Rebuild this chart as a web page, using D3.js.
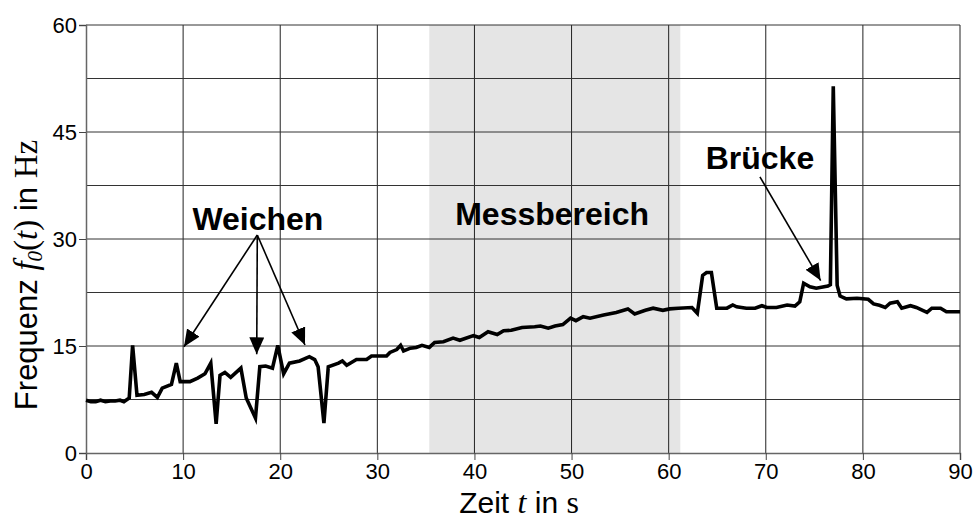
<!DOCTYPE html>
<html>
<head>
<meta charset="utf-8">
<script src="https://cdn.jsdelivr.net/npm/d3@7"></script>
<style>
  body { margin: 0; background: #fff; }
  svg text { font-family: "Liberation Sans", Arial, sans-serif; }
  .serif { font-family: "Liberation Serif", "Times New Roman", serif; }
</style>
</head>
<body>
<svg id="chart" width="973" height="520"></svg>
<script>
// time in s
var zeit = [0, 0.5, 1, 1.5, 2, 2.5, 3, 3.5, 3.9, 4.45, 4.8, 5.25, 6.0, 6.75, 7.35, 7.85, 8.8, 9.3, 9.7, 10.7,
  11.5, 12.25, 12.85, 13.4, 13.8, 14.3, 14.9, 15.95, 16.5, 17.45, 17.9, 18.5, 19.2, 19.75, 20.35, 20.95,
  22.0, 23.0, 23.55, 23.9, 24.5, 24.95, 26.0, 26.4, 26.85, 27.85, 28.9, 29.4, 30.95, 31.3, 32.0, 32.4,
  32.7, 33.4, 34.0, 34.6, 35.35, 35.9, 36.8, 37.8, 38.5, 39.9, 40.5, 41.4, 42.35, 43.0, 43.8, 44.9,
  46.2, 46.8, 47.6, 48.3, 49.1, 49.9, 50.45, 51.2, 51.9, 53.3, 54.6, 55.8, 56.5, 57.6, 58.4, 59.4,
  60.1, 61.0, 62.4, 62.95, 63.5, 63.9, 64.4, 64.95, 66.0, 66.6, 67.0, 68.0, 68.9, 69.6, 70.1, 71.1,
  72.2, 73.0, 73.5, 73.9, 74.55, 75.2, 76.4, 76.65, 76.95, 77.35, 77.65, 78.3, 79.4, 80.55, 81.1, 81.7,
  82.3, 82.8, 83.55, 84.0, 84.9, 85.5, 86.6, 87.1, 88.0, 88.6, 90];
// frequency f0 in Hz
var freq = [7.4, 7.2, 7.2, 7.4, 7.2, 7.3, 7.3, 7.4, 7.2, 7.7, 15.1, 8.1, 8.2, 8.5, 7.8, 9.1, 9.6, 12.6, 10.0, 10.0,
  10.5, 11.1, 12.6, 4.1, 10.9, 11.3, 10.6, 11.9, 7.7, 4.9, 12.1, 12.2, 11.9, 15.1, 11.1, 12.6,
  12.9, 13.5, 13.1, 12.1, 4.2, 12.1, 12.6, 12.9, 12.3, 13.1, 13.1, 13.6, 13.6, 14.1, 14.5, 15.1,
  14.3, 14.7, 14.8, 15.1, 14.8, 15.5, 15.6, 16.1, 15.8, 16.45, 16.2, 17.0, 16.6, 17.15, 17.2, 17.6,
  17.7, 17.8, 17.5, 17.8, 18.0, 18.9, 18.55, 19.1, 18.9, 19.35, 19.7, 20.2, 19.5, 20.0, 20.3, 20.0,
  20.2, 20.3, 20.4, 19.6, 24.9, 25.3, 25.3, 20.3, 20.3, 20.75, 20.5, 20.3, 20.3, 20.65, 20.4, 20.4,
  20.75, 20.6, 21.2, 23.8, 23.3, 23.1, 23.4, 23.6, 51.4, 23.5, 22.0, 21.6, 21.7, 21.55, 20.9, 20.7,
  20.4, 21.0, 21.2, 20.3, 20.65, 20.4, 19.7, 20.3, 20.3, 19.8, 19.8];

var xTicks = [0, 10, 20, 30, 40, 50, 60, 70, 80, 90];
var yTicks = [0, 15, 30, 45, 60];
var yGrid = [7.5, 15, 22.5, 30, 37.5, 45, 52.5, 60];
var messbereich = [35.35, 61.2];

// annotation text and arrows: [from t, from f, to t, to f]
var weichenPos = [17.7, 31.3];
var weichenArrows = [[17.64, 30.56, 10.09, 14.9], [17.64, 30.56, 17.58, 13.83], [17.64, 30.56, 22.55, 15.14]];
var messPos = [48.0, 31.9];
var brueckePos = [69.4, 39.8];
var brueckeArrows = [[69.4, 38.7, 75.65, 24.17]];

var margin = {top: 25, right: 13, bottom: 67, left: 86};
var width = 973 - margin.left - margin.right;
var height = 520 - margin.top - margin.bottom;

var svg = d3.select("#chart");
var g = svg.append("g").attr("transform", "translate(" + margin.left + "," + margin.top + ")");

var x = d3.scaleLinear().domain([0, 90]).range([0, width]);
var y = d3.scaleLinear().domain([0, 60]).range([height, 0]);

// arrow head
svg.append("defs").append("marker")
    .attr("id", "head")
    .attr("markerUnits", "userSpaceOnUse")
    .attr("markerWidth", 18).attr("markerHeight", 16)
    .attr("refX", 17).attr("refY", 7.5)
    .attr("orient", "auto")
  .append("path")
    .attr("d", "M0,0 L17,7.5 L0,15 Z")
    .attr("fill", "#000");

// shaded measuring range
g.append("rect")
    .attr("x", x(messbereich[0]))
    .attr("y", 0)
    .attr("width", x(messbereich[1]) - x(messbereich[0]))
    .attr("height", height)
    .attr("fill", "#e5e5e5");

// grid
g.selectAll(".vgrid").data(xTicks.slice(1))
  .enter().append("line")
    .attr("x1", d => x(d)).attr("x2", d => x(d))
    .attr("y1", 0).attr("y2", height)
    .attr("stroke", "#222").attr("stroke-width", 1);

g.selectAll(".hgrid").data(yGrid)
  .enter().append("line")
    .attr("x1", 0).attr("x2", width)
    .attr("y1", d => y(d)).attr("y2", d => y(d))
    .attr("stroke", "#333").attr("stroke-width", 1);

// axes
var xAxis = g.append("g")
    .attr("transform", "translate(0," + height + ")")
    .call(d3.axisBottom(x).tickValues(xTicks).tickSize(7).tickPadding(3).tickFormat(d3.format("d")));
var yAxis = g.append("g")
    .call(d3.axisLeft(y).tickValues(yTicks).tickSize(7).tickPadding(2).tickFormat(d3.format("d")));

[xAxis, yAxis].forEach(function(a) {
  a.attr("font-size", 22).attr("font-family", "'Liberation Sans', Arial, sans-serif");
  a.select(".domain").attr("stroke", "#666").attr("stroke-width", 1.5);
  a.selectAll(".tick line").attr("stroke", "#444");
  a.selectAll(".tick text")
    .attr("fill", "#000")
    .style("font-size", "22px");
});

// data line
var line = d3.line()
    .x((d, i) => x(zeit[i]))
    .y(d => y(d));

g.append("path")
    .datum(freq)
    .attr("d", line)
    .attr("fill", "none")
    .attr("stroke", "#000")
    .attr("stroke-width", 3.6)
    .attr("stroke-linejoin", "miter")
    .attr("stroke-miterlimit", 4);

// annotations
function label(pos, txt) {
  g.append("text")
    .attr("x", x(pos[0]))
    .attr("y", y(pos[1]))
    .attr("text-anchor", "middle")
    .style("font-size", "32px")
    .style("font-weight", "bold")
    .text(txt);
}
label(weichenPos, "Weichen");
label(messPos, "Messbereich");
label(brueckePos, "Brücke");

g.selectAll(".arrow").data(weichenArrows.concat(brueckeArrows))
  .enter().append("line")
    .attr("x1", d => x(d[0])).attr("y1", d => y(d[1]))
    .attr("x2", d => x(d[2])).attr("y2", d => y(d[3]))
    .attr("stroke", "#000")
    .attr("stroke-width", 1.6)
    .attr("marker-end", "url(#head)");

// axis titles
var xt = svg.append("text")
    .attr("x", margin.left + width / 2 - 4)
    .attr("y", 513)
    .attr("text-anchor", "middle")
    .style("font-size", "30px");
xt.append("tspan").text("Zeit ");
xt.append("tspan").attr("class", "serif").style("font-style", "italic").style("font-size", "32px").text("t");
xt.append("tspan").text(" in ");
xt.append("tspan").attr("class", "serif").style("font-size", "32px").text("s");

var yt = svg.append("text")
    .attr("transform", "translate(37," + (margin.top + height / 2 + 36) + ") rotate(-90)")
    .attr("text-anchor", "middle")
    .style("font-size", "31px");
yt.append("tspan").text("Frequenz ");
yt.append("tspan").attr("class", "serif").style("font-style", "italic").style("font-size", "33px").text("f");
yt.append("tspan").attr("class", "serif").style("font-style", "italic").style("font-size", "21px").attr("dy", 5).text("0");
yt.append("tspan").attr("class", "serif").style("font-size", "33px").attr("dy", -5).text("(");
yt.append("tspan").attr("class", "serif").style("font-style", "italic").style("font-size", "33px").text("t");
yt.append("tspan").attr("class", "serif").style("font-size", "33px").text(")");
yt.append("tspan").text("  in ");
yt.append("tspan").attr("class", "serif").style("font-size", "33px").text("Hz");
</script>
</body>
</html>
